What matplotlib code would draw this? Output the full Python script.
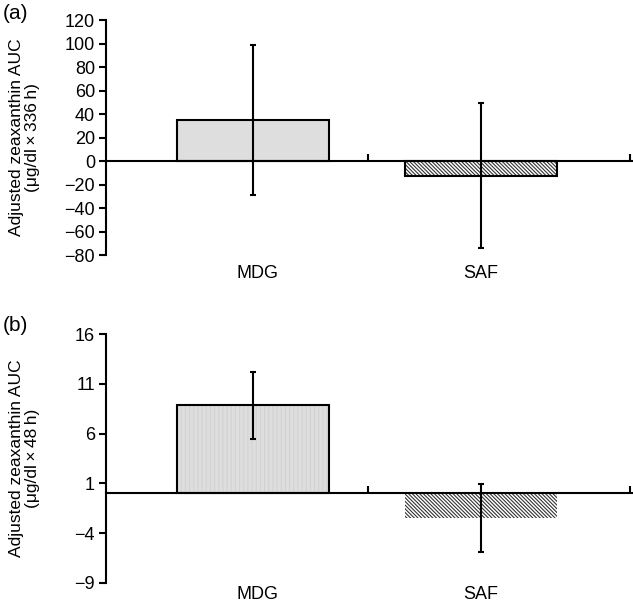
import matplotlib
matplotlib.use("Agg")
import matplotlib.pyplot as plt
import matplotlib.transforms as mtransforms

plt.rcParams['font.family'] = ['Liberation Sans', 'DejaVu Sans']
plt.rcParams['hatch.linewidth'] = 0.8

categories = ["MDG", "SAF"]
# Panel (a): 336 h
a_means = [35, -12.5]
a_err = [64, 61.5]
a_yticks = [-80, -60, -40, -20, 0, 20, 40, 60, 80, 100, 120]
# Panel (b): 48 h
b_means = [8.85, -2.5]
b_err = [3.35, 3.4]
b_yticks = [-9, -4, 1, 6, 11, 16]

fig = plt.figure(figsize=(6.33, 6.03), dpi=100)

def panel(rect, means, errs, yticks, ylabel, tag, saf_edge, label_gap):
    ax = fig.add_axes(rect)
    x = [0, 1]
    w = 0.67
    # MDG fill
    ax.bar(x[0], means[0], width=w, color='#dedede', edgecolor='#d2d2d2',
           hatch='||||' if tag == '(b)' else None, linewidth=0, zorder=2)
    ax.bar(x[0], means[0], width=w, facecolor='none', edgecolor='black',
           linewidth=1.5, zorder=3)
    # SAF hatched
    ax.bar(x[1], means[1], width=w, color='white', edgecolor='#333333',
           hatch='\\' * 9, linewidth=0, zorder=2)
    if saf_edge:
        ax.bar(x[1], means[1], width=w, facecolor='none', edgecolor='black',
               linewidth=1.5, zorder=3)
    ax.errorbar(x, means, yerr=errs, fmt='none', ecolor='black',
                elinewidth=1.5, capsize=2, capthick=1.5, zorder=4)
    ax.set_xlim(-0.645, 1.662)
    ax.set_ylim(yticks[0], yticks[-1])
    ax.set_yticks(yticks)
    ax.set_yticklabels([str(t).replace('-', '\u2212') for t in yticks])
    ax.spines['top'].set_visible(False)
    ax.spines['right'].set_visible(False)
    ax.spines['bottom'].set_position(('data', 0))
    ax.spines['left'].set_linewidth(1.5)
    ax.spines['bottom'].set_linewidth(1.5)
    ax.tick_params(axis='y', direction='out', length=5, width=1.5,
                   labelsize=13, pad=3)
    ax.set_xticks([0.504, 1.655])
    ax.set_xticklabels([])
    ax.tick_params(axis='x', direction='in', length=5, width=1.5)
    base = mtransforms.blended_transform_factory(ax.transData, ax.transAxes)
    trans = base + mtransforms.ScaledTranslation(0, -label_gap / 100.0,
                                                 fig.dpi_scale_trans)
    for xi, c in zip([0.02, 1.0], categories):
        ax.text(xi, 0.0, c, transform=trans, ha='center', va='top',
                fontsize=13)
    ax.set_ylabel(ylabel, fontsize=12.5, linespacing=1.1)
    ax.yaxis.set_label_coords(-0.125, 0.5)
    return ax

panel([0.1675, 0.577, 0.8305, 0.3898], a_means, a_err, a_yticks,
      "Adjusted zeaxanthin AUC\n(\u03bcg/dl\u2009\u00d7\u2009336\u2009h)", '(a)', True, 10)
panel([0.1675, 0.0332, 0.8305, 0.4128], b_means, b_err, b_yticks,
      "Adjusted zeaxanthin AUC\n(\u03bcg/dl\u2009\u00d7\u200948\u2009h)", '(b)', False, 3)

fig.text(0.004, 0.977, "(a)", fontsize=15, ha='left', va='center')
fig.text(0.004, 0.461, "(b)", fontsize=15, ha='left', va='center')

fig.savefig("out.png", dpi=100)
